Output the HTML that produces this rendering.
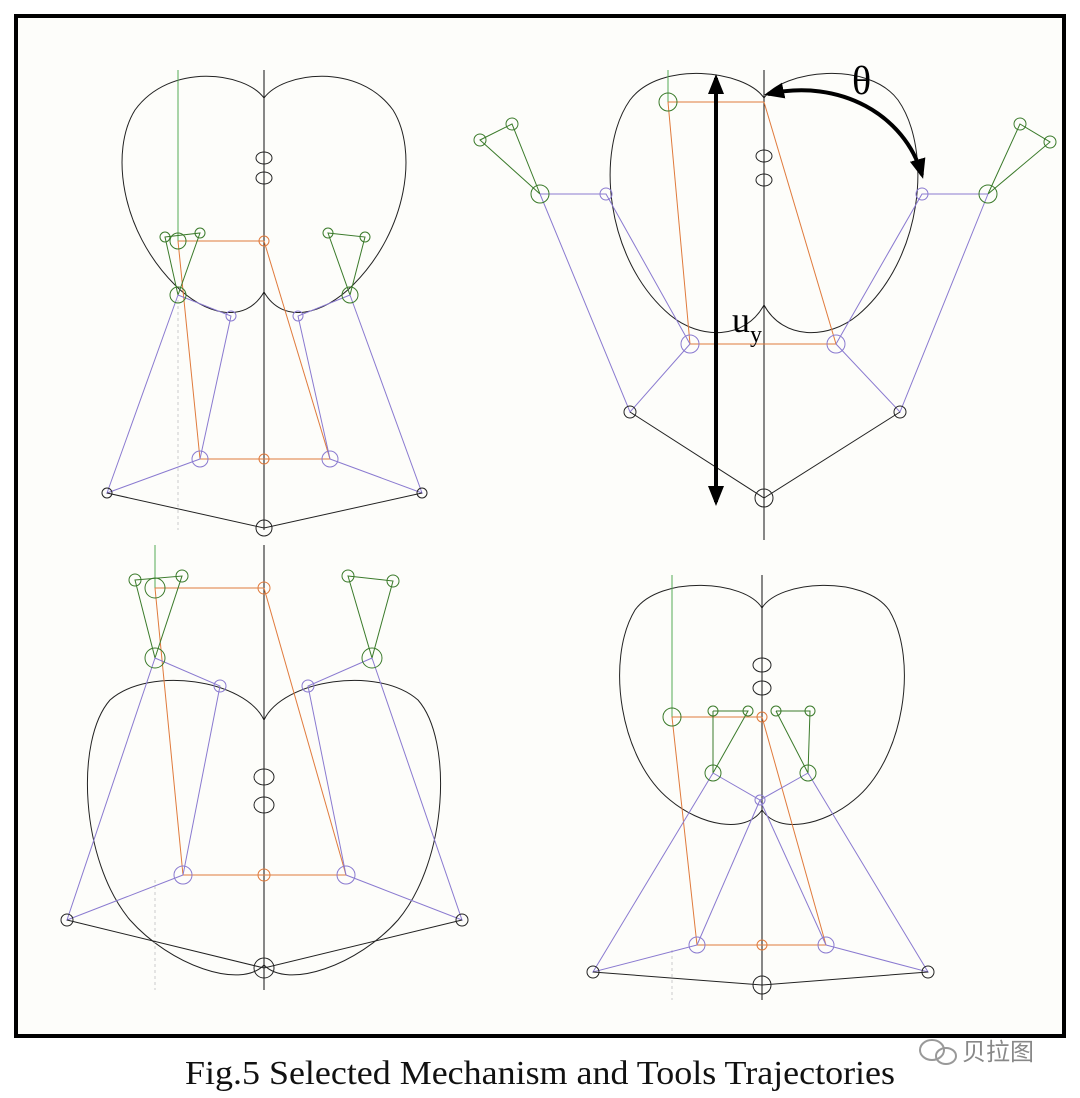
<!DOCTYPE html>
<html><head><meta charset="utf-8"><style>
html,body{margin:0;padding:0;background:#fff;}
svg{display:block;}
</style></head><body>
<svg width="1080" height="1098" viewBox="0 0 1080 1098" xmlns="http://www.w3.org/2000/svg">
<defs>
<marker id="ah" markerWidth="5" markerHeight="5" viewBox="0 0 10 10" refX="8" refY="5" orient="auto-start-reverse" markerUnits="strokeWidth"><path d="M0,1 L10,5 L0,9 z" fill="#000"/></marker>
</defs>
<rect x="0" y="0" width="1080" height="1098" fill="#fff"/>
<rect x="16" y="16" width="1048" height="1020" fill="#fdfdfa" stroke="#000" stroke-width="4"/>

<!-- Panel 1 -->
<g fill="none" stroke-width="1">
<path d="M264,98 C245,72 170,62 135,110 C110,150 120,230 175,285 C205,315 245,325 264,292 C283,325 323,315 353,285 C408,230 418,150 393,110 C358,62 283,72 264,98 Z" stroke="#222"/>
<line x1="264" y1="70" x2="264" y2="530" stroke="#111"/>
<line x1="178" y1="70" x2="178" y2="241" stroke="#5a5"/>
<line x1="178" y1="300" x2="178" y2="530" stroke="#ccc" stroke-dasharray="3,3"/>
<ellipse cx="264" cy="158" rx="8" ry="6" stroke="#222"/><ellipse cx="264" cy="178" rx="8" ry="6" stroke="#222"/>
<g stroke="#e07a3c"><line x1="178" y1="241" x2="264" y2="241"/><line x1="178" y1="241" x2="200" y2="459"/><line x1="264" y1="241" x2="330" y2="459"/><line x1="200" y1="459" x2="330" y2="459"/></g>
<g stroke="#3a7a2a"><polygon points="165,237 200,233 178,295"/><polygon points="328,233 365,237 350,295"/></g>
<g stroke="#8a7ad0"><polyline points="178,295 231,316 200,459"/><polyline points="350,295 298,316 330,459"/><polyline points="178,295 107,493 200,459"/><polyline points="350,295 422,493 330,459"/></g>
<polyline points="107,493 264,528 422,493" stroke="#222"/>
<g stroke="#3a7a2a"><circle cx="178" cy="241" r="8"/><circle cx="178" cy="295" r="8"/><circle cx="350" cy="295" r="8"/><circle cx="165" cy="237" r="5"/><circle cx="200" cy="233" r="5"/><circle cx="328" cy="233" r="5"/><circle cx="365" cy="237" r="5"/></g>
<g stroke="#8a7ad0"><circle cx="231" cy="316" r="5"/><circle cx="298" cy="316" r="5"/><circle cx="200" cy="459" r="8"/><circle cx="330" cy="459" r="8"/></g>
<g stroke="#e07a3c"><circle cx="264" cy="241" r="5"/><circle cx="264" cy="459" r="5"/></g>
<g stroke="#222"><circle cx="107" cy="493" r="5"/><circle cx="422" cy="493" r="5"/><circle cx="264" cy="528" r="8"/></g>
</g>

<!-- Panel 2 -->
<g fill="none" stroke-width="1">
<path d="M764,98 C745,70 660,60 630,100 C595,150 605,260 670,315 C700,340 745,340 764,305 C783,340 828,340 858,315 C923,260 933,150 898,100 C868,60 783,70 764,98 Z" stroke="#222"/>
<line x1="764" y1="70" x2="764" y2="540" stroke="#111"/>
<line x1="668" y1="70" x2="668" y2="102" stroke="#5a5"/>
<g stroke="#e07a3c"><line x1="668" y1="102" x2="764" y2="102"/><line x1="668" y1="102" x2="690" y2="344"/><line x1="764" y1="102" x2="836" y2="344"/><line x1="690" y1="344" x2="836" y2="344"/></g>
<g stroke="#3a7a2a"><polygon points="480,140 512,124 540,194"/><polygon points="1020,124 1050,142 988,194"/></g>
<g stroke="#8a7ad0"><polyline points="540,194 606,194 690,344"/><polyline points="540,194 630,412 690,344"/><polyline points="988,194 922,194 836,344"/><polyline points="988,194 900,412 836,344"/></g>
<polyline points="630,412 764,498 900,412" stroke="#222"/>
<g stroke="#3a7a2a"><circle cx="668" cy="102" r="9"/><circle cx="540" cy="194" r="9"/><circle cx="988" cy="194" r="9"/><circle cx="480" cy="140" r="6"/><circle cx="512" cy="124" r="6"/><circle cx="1020" cy="124" r="6"/><circle cx="1050" cy="142" r="6"/></g>
<g stroke="#8a7ad0"><circle cx="606" cy="194" r="6"/><circle cx="922" cy="194" r="6"/><circle cx="690" cy="344" r="9"/><circle cx="836" cy="344" r="9"/></g>
<g stroke="#222"><circle cx="630" cy="412" r="6"/><circle cx="900" cy="412" r="6"/><circle cx="764" cy="498" r="9"/><ellipse cx="764" cy="156" rx="8" ry="6"/><ellipse cx="764" cy="180" rx="8" ry="6"/></g>
<line x1="716" y1="78" x2="716" y2="502" stroke="#000" stroke-width="4" marker-start="url(#ah)" marker-end="url(#ah)"/>
<path d="M768,94 C840,78 905,115 922,175" stroke="#000" stroke-width="4" marker-start="url(#ah)" marker-end="url(#ah)"/>
<text x="732" y="332" font-family="Liberation Serif, serif" font-size="36" fill="#000" stroke="none">u<tspan font-size="24" dy="10">y</tspan></text>
<text x="852" y="94" font-family="Liberation Serif, serif" font-size="40" fill="#000" stroke="none">θ</text>
</g>

<!-- Panel 3 -->
<g fill="none" stroke-width="1">
<path d="M264,720 C245,680 150,665 110,700 C75,740 80,860 130,920 C170,965 240,990 264,965 C288,990 358,965 398,920 C448,860 453,740 418,700 C378,665 283,680 264,720 Z" stroke="#222"/>
<line x1="264" y1="545" x2="264" y2="990" stroke="#111"/>
<line x1="155" y1="545" x2="155" y2="588" stroke="#5a5"/>
<line x1="155" y1="880" x2="155" y2="990" stroke="#ccc" stroke-dasharray="3,3"/>
<g stroke="#e07a3c"><line x1="155" y1="588" x2="264" y2="588"/><line x1="155" y1="588" x2="183" y2="875"/><line x1="264" y1="588" x2="346" y2="875"/><line x1="183" y1="875" x2="346" y2="875"/></g>
<g stroke="#3a7a2a"><polygon points="135,580 182,576 155,658"/><polygon points="348,576 393,581 372,658"/></g>
<g stroke="#8a7ad0"><polyline points="155,658 220,686 183,875"/><polyline points="372,658 308,686 346,875"/><polyline points="155,658 67,920 183,875"/><polyline points="372,658 462,920 346,875"/></g>
<polyline points="67,920 264,968 462,920" stroke="#222"/>
<g stroke="#3a7a2a"><circle cx="155" cy="588" r="10"/><circle cx="155" cy="658" r="10"/><circle cx="372" cy="658" r="10"/><circle cx="135" cy="580" r="6"/><circle cx="182" cy="576" r="6"/><circle cx="348" cy="576" r="6"/><circle cx="393" cy="581" r="6"/></g>
<g stroke="#8a7ad0"><circle cx="220" cy="686" r="6"/><circle cx="308" cy="686" r="6"/><circle cx="183" cy="875" r="9"/><circle cx="346" cy="875" r="9"/></g>
<g stroke="#e07a3c"><circle cx="264" cy="588" r="6"/><circle cx="264" cy="875" r="6"/></g>
<g stroke="#222"><circle cx="67" cy="920" r="6"/><circle cx="462" cy="920" r="6"/><circle cx="264" cy="968" r="10"/><ellipse cx="264" cy="777" rx="10" ry="8"/><ellipse cx="264" cy="805" rx="10" ry="8"/></g>
</g>

<!-- Panel 4 -->
<g fill="none" stroke-width="1">
<path d="M762,608 C745,580 660,575 635,610 C605,660 620,760 670,800 C700,825 745,835 762,810 C779,835 824,825 854,800 C904,760 919,660 889,610 C864,575 779,580 762,608 Z" stroke="#222"/>
<line x1="762" y1="575" x2="762" y2="1000" stroke="#111"/>
<line x1="672" y1="575" x2="672" y2="717" stroke="#5a5"/>
<line x1="672" y1="950" x2="672" y2="1000" stroke="#ccc" stroke-dasharray="3,3"/>
<g stroke="#e07a3c"><line x1="672" y1="717" x2="762" y2="717"/><line x1="672" y1="717" x2="697" y2="945"/><line x1="762" y1="717" x2="826" y2="945"/><line x1="697" y1="945" x2="826" y2="945"/></g>
<g stroke="#3a7a2a"><polyline points="713,711 748,711 713,773 713,711"/><polyline points="776,711 810,711 808,773 776,711"/></g>
<g stroke="#8a7ad0"><polyline points="713,773 760,800 808,773"/><line x1="760" y1="800" x2="697" y2="945"/><line x1="760" y1="800" x2="826" y2="945"/><polyline points="713,773 593,972 697,945"/><polyline points="808,773 928,972 826,945"/></g>
<polyline points="593,972 762,985 928,972" stroke="#222"/>
<g stroke="#3a7a2a"><circle cx="672" cy="717" r="9"/><circle cx="713" cy="773" r="8"/><circle cx="808" cy="773" r="8"/><circle cx="713" cy="711" r="5"/><circle cx="748" cy="711" r="5"/><circle cx="776" cy="711" r="5"/><circle cx="810" cy="711" r="5"/></g>
<g stroke="#8a7ad0"><circle cx="760" cy="800" r="5"/><circle cx="697" cy="945" r="8"/><circle cx="826" cy="945" r="8"/></g>
<g stroke="#e07a3c"><circle cx="762" cy="717" r="5"/><circle cx="762" cy="945" r="5"/></g>
<g stroke="#222"><circle cx="593" cy="972" r="6"/><circle cx="928" cy="972" r="6"/><circle cx="762" cy="985" r="9"/><ellipse cx="762" cy="665" rx="9" ry="7"/><ellipse cx="762" cy="688" rx="9" ry="7"/></g>
</g>

<text x="185" y="1084" textLength="710" lengthAdjust="spacingAndGlyphs" font-family="Liberation Serif, serif" font-size="34" fill="#111">Fig.5 Selected Mechanism and Tools Trajectories</text>
<g>
<ellipse cx="932" cy="1050" rx="12" ry="10" fill="none" stroke="#999" stroke-width="2"/>
<ellipse cx="946" cy="1056" rx="10" ry="8" fill="none" stroke="#999" stroke-width="2"/>
<text x="962" y="1060" font-family="Liberation Sans, Noto Sans CJK SC, sans-serif" font-size="24" fill="#888">贝拉图</text>
</g>
</svg>
</body></html>
